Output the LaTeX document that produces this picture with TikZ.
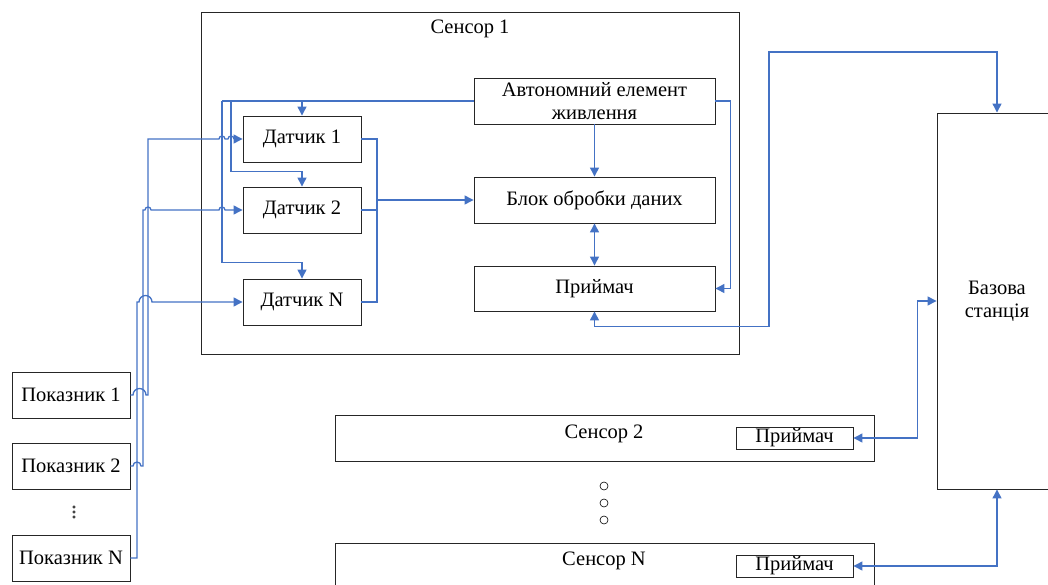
\documentclass[tikz,border=0pt]{standalone}
\usepackage{fontspec}
\setmainfont{Liberation Serif}
\usetikzlibrary{arrows.meta}
\definecolor{wire}{HTML}{4472C4}

\begin{document}
\begin{tikzpicture}[x=1pt, y=-1pt,
    font=\fontsize{20.5}{23}\selectfont,
    box/.style={draw=black!85, line width=0.9pt, minimum width=118pt, minimum height=46pt, inner sep=0pt, align=center},
    wide/.style={box, minimum width=241pt},
    small/.style={box, minimum width=117pt, minimum height=22pt},
    wireline/.style={wire, line width=1.3pt},
    link/.style={wireline, -{Triangle[length=9pt,width=9pt]}},
    duplex/.style={wireline, {Triangle[length=9pt,width=9pt]}-{Triangle[length=9pt,width=9pt]}}]
    \useasboundingbox (0,0) rectangle (1048,585);
    \clip (0,0) rectangle (1048,585);

    % Sensor 1 frame
    \node[box, minimum width=538pt, minimum height=342pt] (sensA) at (470,183) {};
    \node (lblA) at (470,29) {Сенсор 1};

    % Blocks inside sensor 1
    \node[wide] (power) at (594.5,101) {Автономний елемент\\живлення};
    \node[wide] (proc) at (594.5,200) {Блок обробки даних};
    \node[wide, minimum height=45pt] (recv) at (594.5,288.5) {Приймач};
    \node[box] (d1) at (302,139) {Датчик 1};
    \node[box] (d2) at (302,210) {Датчик 2};
    \node[box] (dN) at (302,302) {Датчик N};

    % Indicators
    \node[box] (p1) at (71,395) {Показник 1};
    \node[box] (p2) at (71,466) {Показник 2};
    \node[box] (pN) at (71,558) {Показник N};
    \foreach \y in {507,512,517}
        \draw[line width=0.5pt] (74,\y) circle (1.2pt);

    % Base station
    \node[box, minimum width=120pt, minimum height=376pt] (base) at (997,301) {Базова\\станція};

    % Other sensors
    \node[box, minimum width=539pt] (sens2) at (604.5,438) {};
    \node (lbl2) at (604,434) {Сенсор 2};
    \node[small] (recv2) at (794.5,438) {Приймач};
    \foreach \y in {486,503,520}
        \draw[line width=0.6pt] (604,\y) circle (4pt);
    \node[box, minimum width=539pt] (sensN) at (604.5,566) {};
    \node (lblN) at (604,561) {Сенсор N};
    \node[small] (recvN) at (794.5,566) {Приймач};

    % Power supply lines
    \coordinate (pwA) at (222,101);
    \coordinate (pwB) at (231,101);
    \draw[wireline] (power.west) -- (pwA);
    \draw[link] (power.west) -| (d1.north);
    \draw[link] (pwA) |- ([yshift=16pt]dN.north) -- (dN.north);
    \draw[link] (pwB) |- ([yshift=15pt]d2.north) -- (d2.north);
    \draw[link] (power.east) -- ++(15,0) |- (recv.east);
    \draw[link] (power.south) -- (proc.north);
    \draw[duplex] (proc.south) -- (recv.north);

    % Sensor outputs to processing
    \coordinate (col) at (377,200);
    \draw[wireline] (d1.east) -| (col);
    \draw[wireline] (d2.east) -| (col);
    \draw[wireline] (dN.east) -| (col);
    \draw[link] (col) -- (proc.west);

    % Indicators to sensors (with hops)
    \draw[link] (p1.east) -- (133,395) arc[start angle=180, end angle=0, radius=6.5pt]
        -- (148,395) -- (148,139) -- (219,139) arc[start angle=180, end angle=0, radius=3pt]
        -- (228,139) arc[start angle=180, end angle=0, radius=3pt] -- (d1.west);
    \draw[link] (p2.east) -- (133,466) arc[start angle=180, end angle=0, radius=4pt]
        -- (143,466) -- (143,210) -- (145,210) arc[start angle=180, end angle=0, radius=3pt]
        -- (219,210) arc[start angle=180, end angle=0, radius=3pt] -- (d2.west);
    \draw[link] (pN.east) -- (137,558) -- (137,302) -- (139,302)
        arc[start angle=180, end angle=0, radius=6.5pt] -- (dN.west);

    % Links to base station
    \draw[duplex] (recv.south) -- ++(0,15) -| (769,52) -| (base.north);
    \draw[duplex] (recv2.east) -| ([xshift=-19pt]base.west) -- (base.west);
    \draw[duplex] (recvN.east) -| (base.south);
\end{tikzpicture}
\end{document}
